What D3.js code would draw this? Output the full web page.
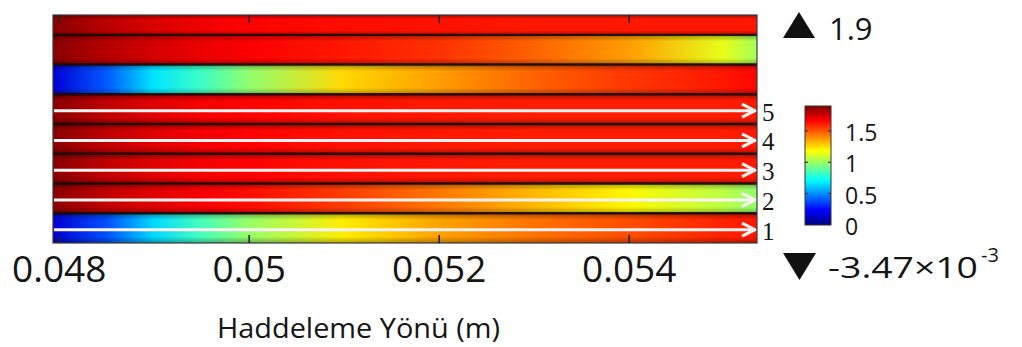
<!DOCTYPE html>
<html>
<head>
<meta charset="utf-8">
<script src="https://cdn.jsdelivr.net/npm/d3@7/dist/d3.min.js"></script>
<style>
  html, body { margin: 0; padding: 0; background: #fff; }
  svg { display: block; }
  text { font-family: "Open Sans", sans-serif; fill: #151515; }
</style>
</head>
<body>
<svg id="chart" width="1022" height="347"></svg>
<script>
// ---------------- DATA ----------------
// positions along the rolling direction (m) where colours were read
const xSamples = [0.04794, 0.0485, 0.049, 0.0495, 0.050, 0.051, 0.052, 0.053, 0.054, 0.055, 0.05535];
// layer edges (top to bottom, arbitrary thickness units)
const layerEdges = [0, 2, 5, 8, 11, 14, 17, 20, 23];
// field values along each layer (top to bottom)
const layerTop = [1.88, 1.79, 1.73, 1.69, 1.66, 1.64, 1.63, 1.62, 1.62, 1.62, 1.62];
const layerB   = [1.88, 1.80, 1.74, 1.70, 1.67, 1.62, 1.57, 1.48, 1.37, 1.14, 1.02];
const layerC   = [0.16, 0.40, 0.66, 0.82, 0.98, 1.26, 1.37, 1.48, 1.56, 1.62, 1.65];
const layer5   = [1.88, 1.78, 1.72, 1.68, 1.66, 1.63, 1.62, 1.61, 1.61, 1.61, 1.62];
const layer4   = [1.88, 1.78, 1.72, 1.68, 1.66, 1.63, 1.62, 1.61, 1.61, 1.61, 1.62];
const layer3   = [1.88, 1.78, 1.72, 1.68, 1.66, 1.63, 1.62, 1.61, 1.61, 1.61, 1.62];
const layer2   = [1.88, 1.78, 1.72, 1.68, 1.64, 1.55, 1.44, 1.32, 1.20, 1.06, 0.98];
const layer1   = [0.15, 0.38, 0.64, 0.84, 0.99, 1.22, 1.36, 1.45, 1.52, 1.60, 1.62];
// path labels (arrows) on the lower five layers
const pathLabels = ["5", "4", "3", "2", "1"];
const xTicks = [0.048, 0.050, 0.052, 0.054];
const xTickLabels = ["0.048", "0.05", "0.052", "0.054"];
const colorTicks = [0, 0.5, 1, 1.5];
const colorTickLabels = ["0", "0.5", "1", "1.5"];
const colorMin = -3.47e-3;
const colorMax = 1.9;
const axisTitle = "Haddeleme Yönü (m)";

// ---------------- CHART ----------------
const layers = [layerTop, layerB, layerC, layer5, layer4, layer3, layer2, layer1];
const svg = d3.select("#chart");
const defs = svg.append("defs");

const plot = { left: 53, right: 757, top: 15, bottom: 243 };
const x = d3.scaleLinear().domain([xSamples[0], xSamples[xSamples.length - 1]]).range([plot.left, plot.right]);
const y = d3.scaleLinear().domain([layerEdges[0], layerEdges[layerEdges.length - 1]]).range([plot.top, plot.bottom]);

// jet colour map over the data range
const jetT = [0, 0.125, 0.375, 0.625, 0.875, 1];
const jetC = ["#00007f", "#0000ff", "#00ffff", "#ffff00", "#ff0000", "#7f0000"];
const color = d3.scaleLinear()
  .domain(jetT.map(t => colorMin + t * (colorMax - colorMin)))
  .range(jetC)
  .interpolate(d3.interpolateRgb)
  .clamp(true);

// shading gradient
const shade = defs.append("linearGradient").attr("id", "shade")
  .attr("x1", 0).attr("x2", 0).attr("y1", 0).attr("y2", 1);
[[0, 0.35], [0.22, 0], [0.78, 0], [1, 0.3]].forEach(([o, a]) =>
  shade.append("stop").attr("offset", o).attr("stop-color", "#000").attr("stop-opacity", a));

const g = svg.append("g");
layers.forEach((vals, i) => {
  const id = "lg" + i;
  const lg = defs.append("linearGradient").attr("id", id)
    .attr("gradientUnits", "userSpaceOnUse")
    .attr("x1", x.range()[0]).attr("x2", x.range()[1]).attr("y1", 0).attr("y2", 0);
  const span = x.range()[1] - x.range()[0];
  vals.forEach((v, j) => {
    lg.append("stop")
      .attr("offset", (x(xSamples[j]) - x.range()[0]) / span)
      .attr("stop-color", color(v));
  });
  const y0 = y(layerEdges[i]), y1 = y(layerEdges[i + 1]);
  g.append("rect").attr("x", plot.left).attr("y", y0)
    .attr("width", plot.right - plot.left).attr("height", y1 - y0)
    .attr("fill", `url(#${id})`);
  g.append("rect").attr("x", plot.left).attr("y", y0)
    .attr("width", plot.right - plot.left).attr("height", y1 - y0)
    .attr("fill", "url(#shade)");
});

// separators
g.selectAll("line.sep").data(layerEdges.slice(1, -1)).join("line")
  .attr("class", "sep")
  .attr("x1", plot.left).attr("x2", plot.right)
  .attr("y1", d => y(d)).attr("y2", d => y(d))
  .attr("stroke", "#1a0505").attr("stroke-width", 2.4).attr("stroke-opacity", 0.9);

// arrows on the lower five layers
const arrowLayers = [3, 4, 5, 6, 7];
arrowLayers.forEach((li, k) => {
  const ym = (y(layerEdges[li]) + y(layerEdges[li + 1])) / 2 + 1.5;
  const tip = plot.right - 2;
  g.append("line").attr("x1", plot.left + 1).attr("x2", tip)
    .attr("y1", ym).attr("y2", ym)
    .attr("stroke", "#fbf3f3").attr("stroke-width", 3);
  g.append("path")
    .attr("d", `M${tip - 13},${ym - 6.5}L${tip},${ym}L${tip - 13},${ym + 6.5}`)
    .attr("fill", "none").attr("stroke", "#fbf3f3").attr("stroke-width", 3)
    .attr("stroke-linejoin", "miter");
  svg.append("text").attr("x", plot.right + 5).attr("y", ym + 10)
    .style("font-family", "'Liberation Serif', serif")
    .style("font-size", "25px")
    .text(pathLabels[k]);
});

// frame
svg.append("rect").attr("x", plot.left).attr("y", plot.top)
  .attr("width", plot.right - plot.left).attr("height", plot.bottom - plot.top)
  .attr("fill", "none").attr("stroke", "#3a3a3a").attr("stroke-width", 1.2);

// axes
const axB = svg.append("g").attr("transform", `translate(0,${plot.bottom})`)
  .call(d3.axisBottom(x).tickValues(xTicks).tickFormat((d, i) => xTickLabels[i]).tickSize(-8).tickPadding(13));
axB.select(".domain").remove();
axB.selectAll("line").attr("stroke", "#222").attr("stroke-width", 1.6);
axB.selectAll("text").style("font-family", "'Open Sans', sans-serif").style("font-size", "37px").attr("fill", "#151515");

const axT = svg.append("g").attr("transform", `translate(0,${plot.top})`)
  .call(d3.axisTop(x).tickValues(xTicks).tickFormat("").tickSize(-8));
axT.select(".domain").remove();
axT.selectAll("line").attr("stroke", "#222").attr("stroke-width", 1.6);

// axis title
svg.append("text").attr("x", 217).attr("y", 338)
  .style("font-size", "28px")
  .attr("textLength", 283).attr("lengthAdjust", "spacingAndGlyphs")
  .text(axisTitle);

// colour bar
const cb = { x: 805, w: 26, top: 106, bottom: 225 };
const cy = d3.scaleLinear().domain([colorMin, colorMax]).range([cb.bottom, cb.top]);
const cg = defs.append("linearGradient").attr("id", "cbar")
  .attr("x1", 0).attr("x2", 0).attr("y1", 1).attr("y2", 0);
jetT.forEach((t, i) => cg.append("stop").attr("offset", t).attr("stop-color", jetC[i]));
svg.append("rect").attr("x", cb.x).attr("y", cb.top).attr("width", cb.w)
  .attr("height", cb.bottom - cb.top).attr("fill", "url(#cbar)")
  .attr("stroke", "#333").attr("stroke-width", 1);
const cAx = svg.append("g").attr("transform", `translate(${cb.x + cb.w},0)`)
  .call(d3.axisRight(cy).tickValues(colorTicks).tickFormat((d, i) => colorTickLabels[i]).tickSize(0).tickPadding(14));
cAx.select(".domain").remove();
cAx.selectAll("text").style("font-family", "'Open Sans', sans-serif").style("font-size", "23px")
  .attr("dy", "0.42em").attr("fill", "#151515");
svg.selectAll("line.cbt").data(colorTicks.filter(d => d > 0)).join("line")
  .attr("class", "cbt")
  .attr("x1", cb.x).attr("x2", cb.x + 3).attr("y1", d => cy(d)).attr("y2", d => cy(d))
  .attr("stroke", "#333").attr("stroke-width", 1.2);
svg.selectAll("line.cbt2").data(colorTicks.filter(d => d > 0)).join("line")
  .attr("class", "cbt2")
  .attr("x1", cb.x + cb.w - 3).attr("x2", cb.x + cb.w).attr("y1", d => cy(d)).attr("y2", d => cy(d))
  .attr("stroke", "#333").attr("stroke-width", 1.2);

// max / min markers
svg.append("path").attr("d", "M783,38L799,12L815,38Z").attr("fill", "#111");
svg.append("text").attr("x", 829).attr("y", 40).style("font-size", "31px").text(d3.format(".1f")(colorMax));
svg.append("path").attr("d", "M783,253L816,253L799.5,280Z").attr("fill", "#111");
const mn = svg.append("text").attr("x", 828).attr("y", 278).style("font-size", "30px");
mn.append("tspan").attr("textLength", 150).attr("lengthAdjust", "spacingAndGlyphs").text("-3.47×10");
mn.append("tspan").attr("x", 981).attr("y", 262).style("font-size", "20px").text("-3");
</script>
</body>
</html>
